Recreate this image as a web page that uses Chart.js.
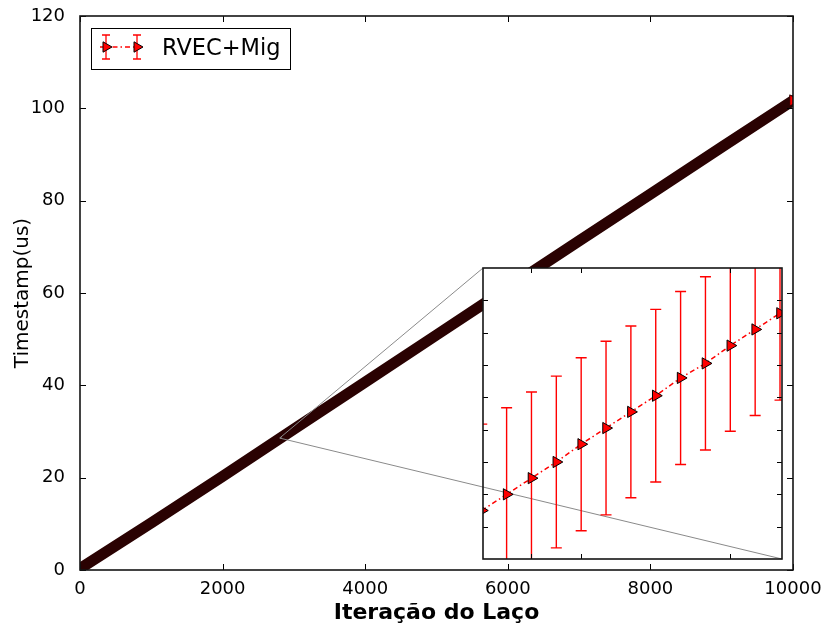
<!DOCTYPE html>
<html>
<head>
<meta charset="utf-8">
<title>RVEC+Mig</title>
<script src="https://cdn.jsdelivr.net/npm/chart.js@4.4.1/dist/chart.umd.min.js"></script>
<style>
  html, body { margin: 0; padding: 0; background: #fff; }
  #wrap { position: relative; width: 825px; height: 633px; }
  #wrap canvas { position: absolute; left: 0; top: 0; }
</style>
</head>
<body>
<div id="wrap">
  <canvas id="main" width="825" height="633"></canvas>
  <canvas id="zoom" width="825" height="633"></canvas>
</div>
<script>
// ---- text ----
const seriesName = 'RVEC+Mig';
const xTitle = 'Iteração do Laço';
const yTitle = 'Timestamp(us)';

// ---- main axes ----
const xTicks = [0, 2000, 4000, 6000, 8000, 10000];
const yTicks = [0, 20, 40, 60, 80, 100, 120];

// timestamp along the whole loop, sampled every 1000 iterations
const loopIter = [0, 1000, 2000, 3000, 4000, 5000, 6000, 7000, 8000, 9000, 10000];
const loopTime = [0.3, 10.2, 20.3, 30.5, 40.7, 50.9, 61.1, 71.3, 81.4, 91.6, 101.7];

// ---- zoomed window (iterations 2808..2820) ----
const zoomIter = [2808, 2809, 2810, 2811, 2812, 2813, 2814, 2815, 2816, 2817, 2818, 2819, 2820];
const zoomTime = [28.530, 28.540, 28.550, 28.560, 28.571, 28.581, 28.591, 28.601, 28.612, 28.621, 28.632, 28.642, 28.652];
const zoomErr  = [0.0534, 0.0536, 0.0533, 0.0531, 0.0535, 0.0537, 0.0531, 0.0534, 0.0535, 0.0536, 0.0530, 0.0532, 0.0537];
const zoomXRange = [2808.05, 2820.08];
const zoomYRange = [28.50, 28.68];
const zoomXTicks = [2810, 2812, 2818];
const zoomYTicks = [28.52, 28.54, 28.56, 28.58, 28.60, 28.62, 28.64, 28.66];

Chart.defaults.font.family = "'DejaVu Sans', sans-serif";
Chart.defaults.color = '#000';

const RED = '#ff0000';
const BAND = '#2a0202';

// inward tick marks on all four sides plus a closed frame
function drawFrameAndTicks(ctx, area, xs, ys, xVals, yVals, len) {
  ctx.save();
  ctx.strokeStyle = '#000';
  ctx.lineWidth = 1;
  ctx.beginPath();
  xVals.forEach(v => {
    const px = Math.round(xs.getPixelForValue(v)) + 0.5;
    ctx.moveTo(px, area.bottom); ctx.lineTo(px, area.bottom - len);
    ctx.moveTo(px, area.top); ctx.lineTo(px, area.top + len);
  });
  yVals.forEach(v => {
    const py = Math.round(ys.getPixelForValue(v)) + 0.5;
    ctx.moveTo(area.left, py); ctx.lineTo(area.left + len, py);
    ctx.moveTo(area.right, py); ctx.lineTo(area.right - len, py);
  });
  ctx.stroke();
  ctx.lineWidth = 1.6;
  ctx.strokeStyle = '#151515';
  ctx.strokeRect(area.left, area.top, area.right - area.left, area.bottom - area.top);
  ctx.restore();
}

// error bar glyph: vertical line with caps
function errorBar(ctx, x, yTop, yBottom, cap) {
  ctx.beginPath();
  ctx.moveTo(x, yTop); ctx.lineTo(x, yBottom);
  ctx.moveTo(x - cap, yTop); ctx.lineTo(x + cap, yTop);
  ctx.moveTo(x - cap, yBottom); ctx.lineTo(x + cap, yBottom);
  ctx.stroke();
}

const mainDecor = {
  id: 'mainDecor',
  afterDraw(chart) {
    const {ctx, chartArea, scales} = chart;
    drawFrameAndTicks(ctx, chartArea, scales.x, scales.y, xTicks, yTicks, 6);

    // legend box
    const bx = 91.5, by = 28.5, bw = 199, bh = 41;
    ctx.save();
    ctx.fillStyle = '#fff';
    ctx.fillRect(bx, by, bw, bh);
    ctx.strokeStyle = '#000';
    ctx.lineWidth = 1;
    ctx.strokeRect(bx, by, bw, bh);

    const cy = 47;
    ctx.strokeStyle = RED;
    ctx.lineWidth = 1.5;
    ctx.setLineDash([5, 3, 1.5, 3]);
    ctx.beginPath(); ctx.moveTo(100, cy); ctx.lineTo(140, cy); ctx.stroke();
    ctx.setLineDash([]);
    ctx.lineWidth = 1.3;
    [106, 137].forEach(x => errorBar(ctx, x, 35, 59, 4));
    ctx.fillStyle = RED;
    ctx.strokeStyle = '#000';
    ctx.lineWidth = 1;
    [106, 137].forEach(x => Chart.helpers.drawPoint(ctx,
      {pointStyle: 'triangle', rotation: 90, radius: 6, borderWidth: 1}, x, cy));

    ctx.fillStyle = '#000';
    ctx.font = "22.5px 'DejaVu Sans'";
    ctx.textBaseline = 'alphabetic';
    ctx.textAlign = 'left';
    ctx.fillText(seriesName, 162, 55);
    ctx.restore();
  }
};

const mainChart = new Chart(document.getElementById('main'), {
  type: 'scatter',
  data: {
    datasets: [{
      label: seriesName,
      data: loopIter.map((x, i) => ({x, y: loopTime[i]})),
      showLine: true,
      borderColor: BAND,
      borderWidth: 11,
      borderCapStyle: 'round',
      pointRadius: ctx => (ctx.dataIndex === loopIter.length - 1 ? 6.5 : 0),
      pointStyle: 'triangle',
      rotation: 90,
      pointBackgroundColor: RED,
      pointBorderColor: BAND,
      pointBorderWidth: 1,
      clip: 0
    }]
  },
  options: {
    responsive: false,
    animation: false,
    events: [],
    layout: {padding: {top: 16, right: 32, left: 0, bottom: 0}},
    plugins: {legend: {display: false}, tooltip: {enabled: false}},
    scales: {
      x: {
        type: 'linear', min: 0, max: 10000,
        grid: {display: false}, border: {display: false},
        afterBuildTicks: s => { s.ticks = xTicks.map(v => ({value: v})); },
        afterFit: s => { s.height = 63; s.paddingLeft = 0; s.paddingRight = 0; },
        ticks: {font: {size: 18}, color: '#000', padding: 1, maxRotation: 0, autoSkip: false,
                callback: v => String(v)},
        title: {display: true, text: xTitle, color: '#000',
                font: {size: 22, weight: 'bold'}, padding: {top: 0, bottom: 7}}
      },
      y: {
        type: 'linear', min: 0, max: 120,
        grid: {display: false}, border: {display: false},
        afterBuildTicks: s => { s.ticks = yTicks.map(v => ({value: v})); },
        afterFit: s => { s.width = 80; s.paddingTop = 0; s.paddingBottom = 0; },
        ticks: {font: {size: 18}, color: '#000', padding: 7, autoSkip: false,
                callback: v => String(v)},
        title: {display: true, text: yTitle, color: '#000',
                font: {size: 20}, padding: {top: 11, bottom: 0}}
      }
    }
  },
  plugins: [mainDecor]
});

const zoomDecor = {
  id: 'zoomDecor',
  beforeDraw(chart) {
    const {ctx, chartArea: a} = chart;
    ctx.save();
    ctx.fillStyle = '#fff';
    ctx.fillRect(a.left, a.top, a.right - a.left, a.bottom - a.top);
    ctx.restore();
  },
  beforeDatasetsDraw(chart) {
    const {ctx, chartArea: a, scales} = chart;
    const mx = mainChart.scales.x, my = mainChart.scales.y;
    // zoomed window as seen on the main axes, and its connectors
    const rx0 = mx.getPixelForValue(zoomXRange[0]);
    const rx1 = mx.getPixelForValue(zoomXRange[1]);
    const ry0 = my.getPixelForValue(zoomYRange[1]);
    const ry1 = my.getPixelForValue(zoomYRange[0]);
    ctx.save();
    ctx.strokeStyle = '#8a8a8a';
    ctx.lineWidth = 1;
    ctx.strokeRect(rx0, ry0, rx1 - rx0, ry1 - ry0);
    ctx.beginPath();
    ctx.moveTo(rx0, ry0); ctx.lineTo(a.left, a.top);
    ctx.moveTo(rx1, ry1); ctx.lineTo(a.right, a.bottom);
    ctx.stroke();
    ctx.restore();

    // error bars
    ctx.save();
    ctx.beginPath();
    ctx.rect(a.left, a.top, a.right - a.left, a.bottom - a.top);
    ctx.clip();
    ctx.strokeStyle = RED;
    ctx.lineWidth = 1.4;
    zoomIter.forEach((it, i) => {
      const px = scales.x.getPixelForValue(it);
      const top = scales.y.getPixelForValue(zoomTime[i] + zoomErr[i]);
      const bot = scales.y.getPixelForValue(zoomTime[i] - zoomErr[i]);
      errorBar(ctx, px, top, bot, 5.5);
    });
    ctx.restore();
  },
  afterDraw(chart) {
    const {ctx, chartArea, scales} = chart;
    drawFrameAndTicks(ctx, chartArea, scales.x, scales.y, zoomXTicks, zoomYTicks, 5);
  }
};

new Chart(document.getElementById('zoom'), {
  type: 'scatter',
  data: {
    datasets: [{
      label: seriesName,
      data: zoomIter.map((x, i) => ({x, y: zoomTime[i]})),
      showLine: true,
      borderColor: RED,
      borderWidth: 1.5,
      borderDash: [5, 3, 1.5, 3],
      pointStyle: 'triangle',
      rotation: 90,
      pointRadius: 6.5,
      pointBackgroundColor: RED,
      pointBorderColor: '#000',
      pointBorderWidth: 1,
      clip: 0
    }]
  },
  options: {
    responsive: false,
    animation: false,
    events: [],
    layout: {padding: {left: 483, top: 268, right: 43, bottom: 74}},
    plugins: {legend: {display: false}, tooltip: {enabled: false}},
    scales: {
      x: {type: 'linear', display: false, min: zoomXRange[0], max: zoomXRange[1]},
      y: {type: 'linear', display: false, min: zoomYRange[0], max: zoomYRange[1]}
    }
  },
  plugins: [zoomDecor]
});
</script>
</body>
</html>
